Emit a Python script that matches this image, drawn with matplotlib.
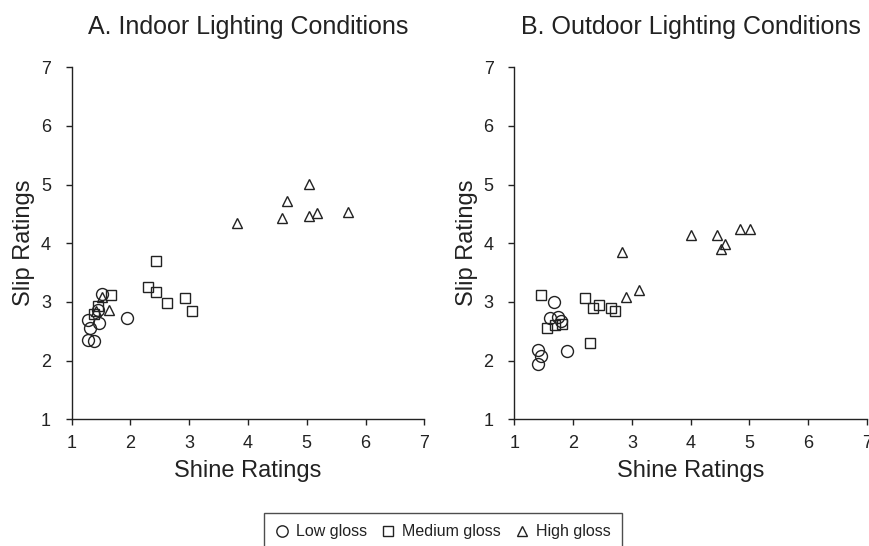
import matplotlib
matplotlib.use("Agg")
import matplotlib.pyplot as plt
from matplotlib.lines import Line2D

plt.rcParams['font.family'] = ['Liberation Sans', 'DejaVu Sans']

# ---- Data ----
# Panel A: Indoor
a_low_x = [1.52, 1.44, 1.28, 1.47, 1.32, 1.28, 1.38, 1.94]
a_low_y = [3.13, 2.87, 2.69, 2.64, 2.55, 2.35, 2.33, 2.72]
a_med_x = [1.67, 1.45, 1.38, 2.43, 2.30, 2.43, 2.63, 2.93, 3.05]
a_med_y = [3.11, 2.93, 2.79, 3.70, 3.26, 3.17, 2.98, 3.07, 2.85]
a_high_x = [1.52, 1.64, 1.42, 3.81, 4.58, 4.66, 5.04, 5.04, 5.17, 5.71]
a_high_y = [3.08, 2.86, 2.84, 4.35, 4.43, 4.72, 5.01, 4.46, 4.51, 4.53]

# Panel B: Outdoor
b_low_x = [1.68, 1.61, 1.75, 1.79, 1.40, 1.45, 1.40, 1.89]
b_low_y = [3.00, 2.73, 2.74, 2.68, 2.18, 2.08, 1.95, 2.17]
b_med_x = [1.45, 2.20, 2.34, 2.44, 2.65, 2.71, 1.56, 1.69, 1.81, 2.29]
b_med_y = [3.12, 3.07, 2.89, 2.95, 2.90, 2.84, 2.56, 2.61, 2.62, 2.30]
b_high_x = [4.00, 4.44, 4.51, 4.58, 4.84, 5.01, 2.84, 3.12, 2.90]
b_high_y = [4.14, 4.14, 3.91, 3.98, 4.24, 4.24, 3.85, 3.20, 3.09]

titles = ["A. Indoor Lighting Conditions", "B. Outdoor Lighting Conditions"]
series_labels = ["Low gloss", "Medium gloss", "High gloss"]
ticks = [1, 2, 3, 4, 5, 6, 7]

edge = "#222222"
fig = plt.figure(figsize=(8.7, 5.46), dpi=100)
ax1 = fig.add_axes([0.0824, 0.232, 0.4053, 0.645])
ax2 = fig.add_axes([0.5912, 0.232, 0.4053, 0.645])

panels = [
    (ax1, (a_low_x, a_low_y), (a_med_x, a_med_y), (a_high_x, a_high_y)),
    (ax2, (b_low_x, b_low_y), (b_med_x, b_med_y), (b_high_x, b_high_y)),
]

styles = [dict(marker='o', ms=8.6), dict(marker='s', ms=7.0), dict(marker='^', ms=7.6)]

for i, (ax, low, med, high) in enumerate(panels):
    for (xs, ys), st in zip([low, med, high], styles):
        ax.plot(xs, ys, linestyle='none', marker=st['marker'], markersize=st['ms'],
                markerfacecolor='none', markeredgecolor=edge, markeredgewidth=1.0,
                clip_on=False)
    ax.set_xlim(1, 7)
    ax.set_ylim(1, 7)
    ax.set_xticks(ticks)
    ax.set_yticks(ticks)
    for s in ['top', 'right']:
        ax.spines[s].set_visible(False)
    for s in ['left', 'bottom']:
        ax.spines[s].set_color(edge)
        ax.spines[s].set_linewidth(1.0)
    ax.tick_params(axis='both', direction='out', length=4, width=1.0, color=edge,
                   labelsize=13, labelcolor=edge)
    ax.tick_params(axis='y', pad=11)
    ax.tick_params(axis='x', pad=7)
    ax.set_xlabel("Shine Ratings", fontsize=17, color=edge, labelpad=6)
    ax.set_ylabel("Slip Ratings", fontsize=17, color=edge, labelpad=4)
    ax.set_title(titles[i], fontsize=18, color=edge, pad=24)

handles = [Line2D([], [], linestyle='none', marker=st['marker'], markersize=st['ms'] * 0.95,
                  markerfacecolor='none', markeredgecolor=edge, markeredgewidth=1.0)
           for st in styles]
leg = fig.legend(handles, series_labels, loc='upper center', bbox_to_anchor=(0.509, 0.0599),
                 ncol=3, frameon=True, fancybox=False, fontsize=11.5, handlelength=0.9,
                 handletextpad=0.4, columnspacing=0.9, borderpad=0.7, borderaxespad=0)
leg.get_frame().set_edgecolor(edge)
leg.get_frame().set_linewidth(1.0)
for t in leg.get_texts():
    t.set_color(edge)

fig.savefig("out.png", dpi=100)
